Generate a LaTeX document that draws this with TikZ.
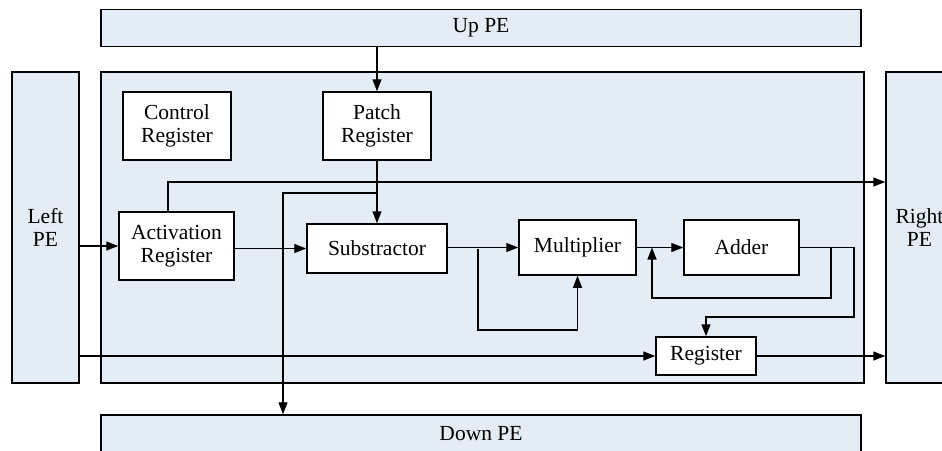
\documentclass[tikz,border=0pt]{standalone}
\usepackage{fontspec}
\setmainfont{Liberation Serif}
\usetikzlibrary{arrows.meta,calc}
\definecolor{peblue}{RGB}{228,236,246}
\tikzset{
  box/.style={draw=black,line width=1.5pt,fill=white,rectangle,inner sep=0pt,align=center,
    font=\fontsize{21.5}{23.5}\selectfont},
  pe/.style={box,fill=peblue},
  arr/.style={draw=black,line width=1.4pt,-{Triangle[length=12pt,width=9pt]}},
}
\begin{document}
\begin{tikzpicture}[x=1pt,y=-1pt]
\useasboundingbox (0,0) rectangle (942,450);
\clip (0,0) rectangle (942,450);
% frames
\node[pe,minimum width=760pt,minimum height=37pt] (up) at (481,28) {Up PE};
\node[pe,minimum width=763pt,minimum height=311pt] (main) at (482.5,227.5) {};
\node[pe,minimum width=67pt,minimum height=311pt] (left) at (45.5,227.5) {Left\\PE};
\node[pe,minimum width=67pt,minimum height=311pt] (right) at (919.5,227.5) {Right\\PE};
\node[pe,minimum width=760pt,minimum height=38pt] (down) at (481,434) {Down PE};
% inner blocks
\node[box,minimum width=108pt,minimum height=68pt] (ctrl) at (177,126) {Control\\Register};
\node[box,minimum width=108pt,minimum height=68pt] (patch) at (377,126) {Patch\\Register};
\node[box,minimum width=115pt,minimum height=68pt] (act) at (176.5,246) {Activation\\Register};
\node[box,minimum width=140pt,minimum height=49pt] (sub) at (377,248.5) {Substractor};
\node[box,minimum width=117pt,minimum height=55pt] (mul) at (577.5,247.5) {Multiplier};
\node[box,minimum width=115pt,minimum height=55pt] (add) at (741.5,247.5) {Adder};
\node[box,minimum width=100pt,minimum height=38pt] (reg) at (706,356) {Register};
% helper coordinates
\coordinate (pb) at (377,193);
\coordinate (dn) at (283,193);
\coordinate (a1) at (168,182);
\coordinate (m1) at (478,330);
\coordinate (f1) at (831,298);
\coordinate (f2) at (652,298);
\coordinate (g1) at (854,317);
% connectors
\draw[arr] (patch |- up.south) -- (patch.north);
\draw[arr] (patch.south) -- (patch.south |- sub.north);
\draw[arr] (pb) -- (dn) -- (dn |- down.north);
\draw[arr] (act.north -| a1) -- (a1) -- (a1 -| right.west);
\draw[arr] (left.east |- act.west) -- (act.west);
\draw[arr] (act.east |- sub.west) -- (sub.west);
\draw[arr] (sub.east |- mul.west) -- (mul.west);
\draw[arr] (sub.east -| m1) -- (m1) -| (mul.south);
\draw[arr] (mul.east) -- (add.west);
\draw[arr] (add.east -| f1) -- (f1) -- (f2) -- (f2 |- add.west);
\draw[arr] (add.east) -- (add.east -| g1) -- (g1) -| (reg.north);
\draw[arr] (left.east |- reg.west) -- (reg.west);
\draw[arr] (reg.east) -- (reg.east -| right.west);
\end{tikzpicture}
\end{document}
